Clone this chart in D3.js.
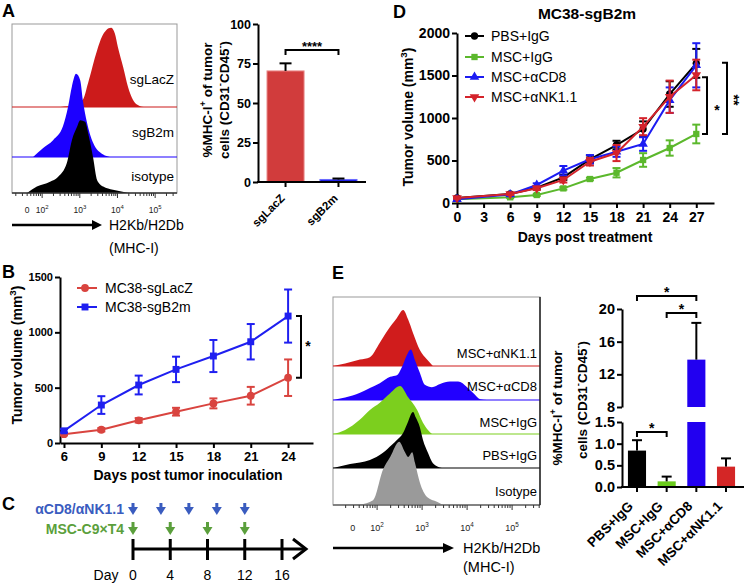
<!DOCTYPE html>
<html><head><meta charset="utf-8">
<script src="https://cdn.jsdelivr.net/npm/d3@7/dist/d3.min.js"></script>
<style>html,body{margin:0;padding:0;background:#fff}svg{display:block}</style>
</head><body>
<svg id="chart" width="744" height="584"></svg>
<script>
// ======================= DATA =======================
// Panel A – flow histograms: [log10 fluorescence, relative count]
const aHistLabels = ["sgLacZ", "sgB2m", "isotype"];
const aHistLacZ = [[2.39,0],[2.8,2],[3.08,9],[3.22,30],[3.46,71],[3.59,88],[3.70,96],[3.83,99],[3.93,92],[4.01,75],[4.15,50],[4.28,25],[4.41,9],[4.60,1],[4.70,0]];
const aHistB2m  = [[1.76,0],[2.02,11],[2.29,21],[2.55,38],[2.69,63],[2.79,88],[2.90,104],[3.01,96],[3.08,71],[3.19,43],[3.35,18],[3.62,3],[3.80,0]];
const aHistIso  = [[1.60,0],[1.86,8],[2.21,14],[2.42,20],[2.66,38],[2.79,66],[2.93,83],[3.01,91],[3.14,89],[3.22,75],[3.35,45],[3.46,16],[3.62,8],[3.88,4],[4.20,1],[4.33,0]];
const aFlowTickVals = [1.6, 2, 3, 4, 5];
const eFlowTickVals = [1.46, 2, 3, 4, 5];
const flowTickLabels = [["0",""],["10","2"],["10","3"],["10","4"],["10","5"]];
// Panel A – bar chart
const aGroups = ["sgLacZ", "sgB2m"];
const aMean = [70.3, 1.6];
const aErr = [4.8, 0.6];
const aYTicks = [0, 25, 50, 75, 100];

// Panel B – tumour growth
const bDays = [6, 9, 12, 15, 18, 21, 24];
const bSeriesNames = ["MC38-sgLacZ", "MC38-sgB2m"];
const bLacZ = [80, 120, 205, 283, 358, 427, 590];
const bLacZErr = [10, 15, 20, 35, 45, 80, 165];
const bB2m = [110, 343, 524, 665, 786, 915, 1147];
const bB2mErr = [15, 80, 85, 115, 145, 160, 240];
const bXTicks = [6, 9, 12, 15, 18, 21, 24];
const bYTicks = [0, 500, 1000, 1500];

// Panel C – schedule
const cDayTicks = [0, 4, 8, 12, 16];
const cAntibodyDays = [0, 3, 6, 9, 12];
const cMscDays = [0, 4, 8, 12];
const cRowLabels = ["αCD8/αNK1.1", "MSC-C9×T4"];

// Panel D – tumour growth MC38-sgB2m
const dDays = [0, 6, 9, 12, 15, 18, 21, 24, 27];
const dSeriesNames = ["PBS+IgG", "MSC+IgG", "MSC+αCD8", "MSC+αNK1.1"];
const dPBS = [60, 106, 180, 302, 514, 682, 870, 1282, 1643];
const dPBSErr = [10, 12, 20, 30, 45, 50, 90, 150, 170];
const dMSC = [45, 67, 94, 172, 282, 356, 506, 647, 812];
const dMSCErr = [8, 10, 12, 15, 15, 55, 80, 90, 110];
const dCD8 = [45, 100, 212, 380, 514, 603, 694, 1210, 1620];
const dCD8Err = [10, 12, 20, 55, 50, 60, 80, 150, 260];
const dNK = [60, 106, 173, 271, 486, 588, 898, 1250, 1506];
const dNKErr = [10, 12, 20, 30, 45, 95, 100, 190, 180];
const dXTicks = [0, 3, 6, 9, 12, 15, 18, 21, 24, 27];
const dYTicks = [0, 500, 1000, 1500, 2000];

// Panel E – flow histograms
const eHistLabels = ["MSC+αNK1.1", "MSC+αCD8", "MSC+IgG", "PBS+IgG", "Isotype"];
const eHistNK  = [[1.02,0],[1.29,3],[1.62,8],[1.84,11],[2.06,29],[2.24,45],[2.44,60],[2.58,70],[2.69,58],[2.80,41],[2.95,20],[3.11,8],[3.24,0]];
const eHistCD8 = [[1.02,0],[1.29,3],[1.62,9],[1.84,15],[2.06,21],[2.29,29],[2.44,31],[2.55,41],[2.66,56],[2.75,63],[2.84,50],[2.95,34],[3.06,19],[3.22,16],[3.40,20],[3.62,23],[3.80,23],[4.00,16],[4.13,9],[4.29,1],[4.44,0]];
const eHistIgG = [[1.02,0],[1.29,5],[1.62,18],[1.84,30],[2.06,39],[2.29,51],[2.51,60],[2.69,46],[2.89,30],[3.02,14],[3.13,5],[3.22,0]];
const eHistPBS = [[1.02,0],[1.40,5],[1.84,10],[2.13,19],[2.33,29],[2.44,35],[2.58,44],[2.66,54],[2.80,70],[2.86,63],[2.95,51],[3.02,35],[3.13,19],[3.24,6],[3.44,0]];
const eHistIso = [[1.02,0],[1.62,1],[1.91,6],[2.13,44],[2.29,60],[2.49,79],[2.62,66],[2.69,60],[2.78,66],[2.84,53],[2.95,28],[3.11,10],[3.33,4],[3.46,0]];
// Panel E – bar chart (broken axis)
const eGroups = ["PBS+IgG", "MSC+IgG", "MSC+αCD8", "MSC+αNK1.1"];
const eMean = [0.84, 0.13, 13.8, 0.47];
const eErr = [0.24, 0.11, 4.5, 0.19];
const eLowTicks = [0, 0.5, 1.0, 1.5];
const eHighTicks = [8, 12, 16, 20];

// ======================= HELPERS =======================
const svg = d3.select("#chart");
const FONT = '"Liberation Sans", Arial, Helvetica, sans-serif';
const intFmt = d3.format("d");

function rich(t, parts, fs) {
  let cur = 0;
  parts.forEach(p => {
    const sup = typeof p !== "string";
    const s = sup ? p.sup : p;
    const target = sup ? -fs * 0.42 : 0;
    const ts = t.append("tspan").text(s);
    if (target - cur !== 0) ts.attr("dy", target - cur);
    if (sup) ts.attr("font-size", fs * 0.7);
    cur = target;
  });
}
function T(g, x, y, s, o = {}) {
  const fs = o.fs || 13;
  const t = g.append("text").attr("x", x).attr("y", y)
    .attr("font-family", FONT).attr("font-size", fs)
    .attr("font-weight", o.bold ? "bold" : "normal")
    .attr("fill", o.fill || "#000")
    .attr("text-anchor", o.anchor || "start");
  if (o.rot != null) t.attr("transform", `rotate(${o.rot},${x},${y})`);
  if (Array.isArray(s)) rich(t, s, fs); else t.text(s);
  return t;
}
function L(g, x1, y1, x2, y2, color = "#000", w = 2) {
  return g.append("line").attr("x1", x1).attr("y1", y1).attr("x2", x2).attr("y2", y2)
    .attr("stroke", color).attr("stroke-width", w);
}
function axisStyle(sel, fs) {
  sel.selectAll("path.domain").attr("stroke", "#000").attr("stroke-width", 2);
  sel.selectAll(".tick line").attr("stroke", "#000").attr("stroke-width", 2);
  sel.selectAll(".tick text").attr("font-family", FONT).attr("font-size", fs)
    .attr("font-weight", "bold").attr("fill", "#000");
}
function drawHist(g, x, h, x0, x1, base, data, color) {
  const area = d3.area().curve(d3.curveMonotoneX)
    .x(d => x(d[0])).y0(base).y1(d => base - h(d[1]));
  g.append("path").datum(data).attr("d", area).attr("fill", color);
  L(g, x0, base, x1, base, color, 1.2);
}
function flowAxis(g, x, y, tickVals, labelY, fs) {
  const [d0, d1] = x.domain();
  for (let d = 1; d <= 5; d++) for (let k = 1; k <= 9; k++) {
    const v = d + Math.log10(k);
    if (v < d0 || v > d1) continue;
    L(g, x(v), y, x(v), y + (k === 1 ? 5 : 3), "#333", 1);
  }
  tickVals.forEach((v, i) => {
    const lab = flowTickLabels[i];
    const parts = lab[1] ? [lab[0], { sup: lab[1] }] : [lab[0]];
    T(g, x(v), labelY, parts, { fs: fs, anchor: "middle", fill: "#222" });
  });
}
function errBar(g, x, yA, yB, cap, color, w = 2) {
  L(g, x, yA, x, yB, color, w);
  L(g, x - cap / 2, yA, x + cap / 2, yA, color, w);
  if (yB !== null) L(g, x - cap / 2, yB, x + cap / 2, yB, color, w);
}
function bracketRight(g, x, yTop, yBot, stub) {
  g.append("path").attr("d", `M${x - stub},${yTop}H${x}V${yBot}H${x - stub}`)
    .attr("fill", "none").attr("stroke", "#000").attr("stroke-width", 2);
}
function bracketTop(g, x1, x2, y, stub) {
  g.append("path").attr("d", `M${x1},${y + stub}V${y}H${x2}V${y + stub}`)
    .attr("fill", "none").attr("stroke", "#000").attr("stroke-width", 2);
}

// Panel letters
[["A", 2, 17], ["D", 393, 18], ["B", 2, 278], ["E", 332, 279], ["C", 2, 510]].forEach(([s, x, y]) =>
  T(svg, x, y, s, { fs: 18, bold: true }));

// ======================= PANEL A: histograms =======================
{
  const g = svg.append("g");
  const x = d3.scaleLinear().domain([1.2, 5.58]).range([12, 177]);
  const h = d3.scaleLinear().domain([0, 100]).range([0, 80]);
  const bases = [107, 157, 193];
  const datas = [aHistLacZ, aHistB2m, aHistIso];
  const colors = ["#cc1b1b", "#1c00ff", "#000000"];
  g.append("rect").attr("x", 12).attr("y", 24).attr("width", 165).attr("height", 169)
    .attr("fill", "none").attr("stroke", "#999").attr("stroke-width", 1);
  datas.forEach((d, i) => drawHist(g, x, h, 12, 177, bases[i], d, colors[i]));
  L(g, 12, 193, 177, 193, "#555", 1);
  const labY = [84, 137, 181];
  aHistLabels.forEach((s, i) => T(g, 174, labY[i], s, { fs: 13.5, anchor: "end" }));
  flowAxis(g, x, 193, aFlowTickVals, 213, 8.5);
  L(g, 12, 225, 93, 225, "#000", 2.5);
  g.append("path").attr("d", "M92,220L102,225L92,230Z").attr("fill", "#000");
  T(g, 109, 230, "H2Kb/H2Db", { fs: 14 });
  T(g, 109, 253, "(MHC-I)", { fs: 14 });
}

// ======================= PANEL A: bars =======================
{
  const g = svg.append("g");
  const y = d3.scaleLinear().domain([0, 100]).range([182, 24]);
  const x = d3.scaleBand().domain(aGroups).range([258, 366]).paddingInner(0.3).paddingOuter(0.17);
  const colors = ["#d13c3c", "#2222e8"];
  aGroups.forEach((k, i) => {
    g.append("rect").attr("x", x(k)).attr("y", y(aMean[i])).attr("width", x.bandwidth())
      .attr("height", y(0) - y(aMean[i])).attr("fill", colors[i])
      .attr("stroke", i === 0 ? "#e98a8a" : "#6a6aff").attr("stroke-width", 1);
    const cx = x(k) + x.bandwidth() / 2;
    L(g, cx, y(aMean[i]), cx, y(aMean[i] + aErr[i]), "#000", 2);
    L(g, cx - 6, y(aMean[i] + aErr[i]), cx + 6, y(aMean[i] + aErr[i]), "#000", 2);
  });
  const ay = g.append("g").attr("transform", "translate(258,0)")
    .call(d3.axisLeft(y).tickValues(aYTicks).tickFormat(intFmt).tickSize(5).tickSizeOuter(0).tickPadding(2));
  axisStyle(ay, 12.5);
  L(g, 257, 182, 366, 182, "#000", 2);
  aGroups.forEach(k => {
    const cx = x(k) + x.bandwidth() / 2;
    L(g, cx, 182, cx, 187, "#000", 2);
    T(g, cx, 199, k, { fs: 11.5, bold: true, anchor: "end", rot: -45 });
  });
  T(g, 212, 100, ["%MHC-I", { sup: "+" }, " of tumor"], { fs: 13.5, bold: true, anchor: "middle", rot: -90 });
  T(g, 229, 100, ["cells (CD31", { sup: "-" }, "CD45", { sup: "-" }, ")"], { fs: 13.5, bold: true, anchor: "middle", rot: -90 });
  const c0 = x(aGroups[0]) + x.bandwidth() / 2, c1 = x(aGroups[1]) + x.bandwidth() / 2;
  bracketTop(g, c0, c1, 50, 5);
  T(g, (c0 + c1) / 2, 51, "****", { fs: 13, bold: true, anchor: "middle" });
}

// ======================= PANEL D =======================
{
  const g = svg.append("g");
  const x = d3.scaleLinear().domain([0, 29]).range([457, 714]);
  const y = d3.scaleLinear().domain([0, 2000]).range([203, 33]);
  T(g, 587, 19, "MC38-sgB2m", { fs: 15.5, bold: true, anchor: "middle" });
  const ax = g.append("g").attr("transform", "translate(0,203)")
    .call(d3.axisBottom(x).tickValues(dXTicks).tickFormat(intFmt).tickSize(5).tickSizeOuter(0).tickPadding(4));
  axisStyle(ax, 14);
  const ay = g.append("g").attr("transform", "translate(457,0)")
    .call(d3.axisLeft(y).tickValues(dYTicks).tickFormat(intFmt).tickSize(5).tickSizeOuter(0).tickPadding(2));
  axisStyle(ay, 14);
  T(g, 585, 242, "Days post treatment", { fs: 14, bold: true, anchor: "middle" });
  T(g, 413, 117, ["Tumor volume (mm", { sup: "3" }, ")"], { fs: 14, bold: true, anchor: "middle", rot: -90 });

  const vals = [dPBS, dMSC, dCD8, dNK];
  const errs = [dPBSErr, dMSCErr, dCD8Err, dNKErr];
  const colors = ["#000000", "#5bb82c", "#1c1cf2", "#d4232b"];
  const syms = [d3.symbolCircle, d3.symbolSquare, d3.symbolTriangle, d3.symbolTriangle];
  const rots = [0, 0, 0, 180];
  const sizes = [42, 40, 40, 40];
  const line = d3.line().x((d, i) => x(dDays[i])).y(d => y(d));
  vals.forEach((v, s) => {
    const sg = g.append("g");
    sg.append("path").datum(v).attr("d", line).attr("fill", "none")
      .attr("stroke", colors[s]).attr("stroke-width", 2);
    v.forEach((val, i) => {
      errBar(sg, x(dDays[i]), y(val + errs[s][i]), y(val - errs[s][i]), 8, colors[s], 2);
      sg.append("path").attr("d", d3.symbol().type(syms[s]).size(sizes[s])())
        .attr("transform", `translate(${x(dDays[i])},${y(val)}) rotate(${rots[s]})`)
        .attr("fill", colors[s]);
    });
  });
  // legend
  const ly = [36, 57, 77, 97];
  dSeriesNames.forEach((n, s) => {
    L(g, 465, ly[s], 484, ly[s], colors[s], 2);
    g.append("path").attr("d", d3.symbol().type(syms[s]).size(sizes[s])())
      .attr("transform", `translate(474.5,${ly[s]}) rotate(${rots[s]})`).attr("fill", colors[s]);
    T(g, 491, ly[s] + 5, n, { fs: 14 });
  });
  // significance
  bracketRight(g, 707, y(1480), y(812), 5);
  T(g, 717, 115, "*", { fs: 14, bold: true, anchor: "middle" });
  bracketRight(g, 727, y(1650), y(812), 5);
  T(g, 729, 100, "**", { fs: 14, bold: true, anchor: "middle", rot: 90 });
}

// ======================= PANEL B =======================
{
  const g = svg.append("g");
  const x = d3.scaleLinear().domain([5.68, 26]).range([60, 313]);
  const y = d3.scaleLinear().domain([0, 1500]).range([443, 277]);
  const ax = g.append("g").attr("transform", "translate(0,443)")
    .call(d3.axisBottom(x).tickValues(bXTicks).tickFormat(intFmt).tickSize(5).tickSizeOuter(0).tickPadding(4));
  axisStyle(ax, 13);
  const ay = g.append("g").attr("transform", "translate(60,0)")
    .call(d3.axisLeft(y).tickValues(bYTicks).tickFormat(intFmt).tickSize(5).tickSizeOuter(0).tickPadding(2));
  axisStyle(ay, 11);
  T(g, 188, 480, "Days post tumor inoculation", { fs: 14, bold: true, anchor: "middle" });
  T(g, 22, 355, ["Tumor volume (mm", { sup: "3" }, ")"], { fs: 14, bold: true, anchor: "middle", rot: -90 });
  const vals = [bLacZ, bB2m], errs = [bLacZErr, bB2mErr];
  const colors = ["#d9443f", "#1f1ff0"];
  const syms = [d3.symbolCircle, d3.symbolSquare];
  const line = d3.line().x((d, i) => x(bDays[i])).y(d => y(d));
  vals.forEach((v, s) => {
    const sg = g.append("g");
    sg.append("path").datum(v).attr("d", line).attr("fill", "none")
      .attr("stroke", colors[s]).attr("stroke-width", 2);
    v.forEach((val, i) => {
      errBar(sg, x(bDays[i]), y(val + errs[s][i]), y(Math.max(0, val - errs[s][i])), 8, colors[s], 2);
      sg.append("path").attr("d", d3.symbol().type(syms[s]).size(48)())
        .attr("transform", `translate(${x(bDays[i])},${y(val)})`).attr("fill", colors[s]);
    });
  });
  const ly = [288, 307];
  bSeriesNames.forEach((n, s) => {
    L(g, 77, ly[s], 97, ly[s], colors[s], 2);
    g.append("path").attr("d", d3.symbol().type(syms[s]).size(48)())
      .attr("transform", `translate(85,${ly[s]})`).attr("fill", colors[s]);
    T(g, 105, ly[s] + 5, n, { fs: 14 });
  });
  bracketRight(g, 301, y(1147), y(590), 5);
  T(g, 308, 351, "*", { fs: 14, bold: true, anchor: "middle" });
}

// ======================= PANEL C =======================
{
  const g = svg.append("g");
  const x = d3.scaleLinear().domain([0, 16]).range([133, 282]);
  const blue = "#3a5cbf", green = "#5b9f3c";
  T(g, 124, 514, cRowLabels[0], { fs: 14, bold: true, anchor: "end", fill: blue });
  T(g, 124, 534, cRowLabels[1], { fs: 14, bold: true, anchor: "end", fill: green });
  function arrow(cx, top, tip, color) {
    g.append("rect").attr("x", cx - 1.5).attr("y", top).attr("width", 3).attr("height", tip - top - 6).attr("fill", color);
    g.append("path").attr("d", `M${cx - 5},${tip - 8}L${cx + 5},${tip - 8}L${cx},${tip}Z`).attr("fill", color);
  }
  cAntibodyDays.forEach(d => arrow(x(d), 503, 515, blue));
  cMscDays.forEach(d => arrow(x(d), 522, 535, green));
  L(g, x(0), 549, 304, 549, "#000", 3);
  g.append("path").attr("d", "M293,539L306,549L293,559").attr("fill", "none")
    .attr("stroke", "#000").attr("stroke-width", 3);
  cDayTicks.forEach(d => {
    L(g, x(d), 539, x(d), 560, "#000", 3);
    T(g, x(d), 580, String(d), { fs: 14, anchor: "middle" });
  });
  T(g, 106, 580, "Day", { fs: 14, anchor: "middle" });
}

// ======================= PANEL E: histograms =======================
{
  const g = svg.append("g");
  const x = d3.scaleLinear().domain([1.02, 5.62]).range([333, 540]);
  const h = d3.scaleLinear().domain([0, 100]).range([0, 80]);
  const bases = [366, 400, 434, 468, 505];
  const datas = [eHistNK, eHistCD8, eHistIgG, eHistPBS, eHistIso];
  const colors = ["#d01c1c", "#2200ff", "#7ccf1e", "#000000", "#9a9a9a"];
  g.append("rect").attr("x", 333).attr("y", 297).attr("width", 207).attr("height", 208)
    .attr("fill", "none").attr("stroke", "#999").attr("stroke-width", 1);
  datas.forEach((d, i) => drawHist(g, x, h, 333, 540, bases[i], d, colors[i]));
  L(g, 333, 505, 540, 505, "#555", 1);
  L(g, 540, 297, 540, 505, "#222", 1.5);
  const labY = [358, 391, 427, 460, 496];
  eHistLabels.forEach((s, i) => T(g, 537, labY[i], s, { fs: 13, anchor: "end" }));
  flowAxis(g, x, 505, eFlowTickVals, 531, 9);
  L(g, 333, 548, 444, 548, "#000", 2.5);
  g.append("path").attr("d", "M443,543L454,548L443,553Z").attr("fill", "#000");
  T(g, 463, 553, "H2Kb/H2Db", { fs: 14.5 });
  T(g, 463, 572, "(MHC-I)", { fs: 14.5 });
}

// ======================= PANEL E: bars =======================
{
  const g = svg.append("g");
  const yLow = d3.scaleLinear().domain([0, 1.5]).range([487, 422]);
  const yHigh = d3.scaleLinear().domain([8, 20]).range([407, 309]);
  const x = d3.scaleBand().domain(eGroups).range([622, 741]).paddingInner(0.39).paddingOuter(0.2);
  const colors = ["#000000", "#6acb1c", "#2200f0", "#d42626"];
  eGroups.forEach((k, i) => {
    const bx = x(k), bw = x.bandwidth(), cx = bx + bw / 2;
    const m = eMean[i];
    const lowTop = yLow(Math.min(m, 1.5));
    g.append("rect").attr("x", bx).attr("y", lowTop).attr("width", bw)
      .attr("height", yLow(0) - lowTop).attr("fill", colors[i]);
    if (m > 8) {
      g.append("rect").attr("x", bx).attr("y", yHigh(m)).attr("width", bw)
        .attr("height", yHigh(8) - yHigh(m)).attr("fill", colors[i]);
      L(g, cx, yHigh(m), cx, yHigh(m + eErr[i]), "#000", 2);
      L(g, cx - 5, yHigh(m + eErr[i]), cx + 5, yHigh(m + eErr[i]), "#000", 2);
    } else {
      L(g, cx, yLow(m), cx, yLow(m + eErr[i]), "#000", 2);
      L(g, cx - 5, yLow(m + eErr[i]), cx + 5, yLow(m + eErr[i]), "#000", 2);
    }
  });
  const aLow = g.append("g").attr("transform", "translate(622,0)")
    .call(d3.axisLeft(yLow).tickValues(eLowTicks).tickFormat(d3.format(".1f")).tickSize(5).tickSizeOuter(0).tickPadding(2));
  axisStyle(aLow, 14.5);
  const aHigh = g.append("g").attr("transform", "translate(622,0)")
    .call(d3.axisLeft(yHigh).tickValues(eHighTicks).tickFormat(intFmt).tickSize(5).tickSizeOuter(0).tickPadding(2));
  axisStyle(aHigh, 14.5);
  L(g, 621, 487, 744, 487, "#000", 2);
  eGroups.forEach(k => {
    const cx = x(k) + x.bandwidth() / 2;
    L(g, cx, 487, cx, 492, "#000", 2);
    T(g, cx - 3, 507, k, { fs: 13.5, bold: true, anchor: "end", rot: -45 });
  });
  T(g, 562, 408, ["%MHC-I", { sup: "+" }, " of tumor"], { fs: 13.5, bold: true, anchor: "middle", rot: -90 });
  T(g, 587, 400, ["cells (CD31", { sup: "-" }, "CD45", { sup: "-" }, ")"], { fs: 13.5, bold: true, anchor: "middle", rot: -90 });
  const cc = eGroups.map(k => x(k) + x.bandwidth() / 2);
  bracketTop(g, cc[0], cc[1], 432, 5);
  T(g, (cc[0] + cc[1]) / 2, 433, "*", { fs: 14, bold: true, anchor: "middle" });
  bracketTop(g, cc[0], cc[2], 296, 5);
  T(g, (cc[0] + cc[2]) / 2, 297, "*", { fs: 14, bold: true, anchor: "middle" });
  bracketTop(g, cc[1], cc[2], 313, 5);
  T(g, (cc[1] + cc[2]) / 2, 314, "*", { fs: 14, bold: true, anchor: "middle" });
}
</script>
</body></html>
